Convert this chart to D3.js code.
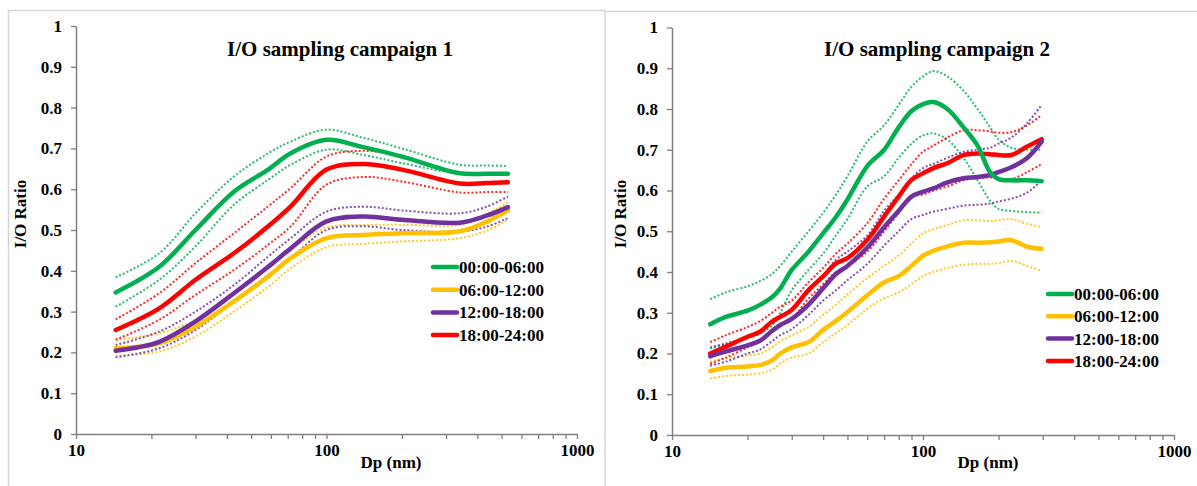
<!DOCTYPE html>
<html><head><meta charset="utf-8">
<script src="https://cdn.jsdelivr.net/npm/d3@7"></script>
<style>
body{margin:0;background:#fff}
svg{display:block}
text{font-family:"Liberation Serif","Times New Roman",serif;font-weight:bold;fill:#000}
</style>
</head><body>
<svg id="chart" width="1197" height="486"></svg>
<script>
// ---- shared labels / ticks ----
const seriesLabels = ["00:00-06:00", "06:00-12:00", "12:00-18:00", "18:00-24:00"];
const seriesColors = ["#00B050", "#FFC000", "#7030A0", "#FF0000"];
const yTicks = [0, 0.1, 0.2, 0.3, 0.4, 0.5, 0.6, 0.7, 0.8, 0.9, 1];
const xTicks = [10, 20, 30, 40, 50, 60, 70, 80, 90, 100, 200, 300, 400, 500, 600, 700, 800, 900, 1000];
const xTickLabels = [10, 100, 1000];
const titles = ["I/O sampling campaign 1", "I/O sampling campaign 2"];
const xLabel = "Dp (nm)";
const yLabel = "I/O Ratio";

// ---- campaign 1 ----
const dp1 = [14.4, 21.5, 30, 42.7, 58.5, 72, 100, 140, 200, 340, 435, 530];
const c1_0006    = [0.347, 0.41, 0.50, 0.594, 0.648, 0.688, 0.721, 0.703, 0.68, 0.639, 0.638, 0.638];
const c1_0006_hi = [0.384, 0.443, 0.541, 0.631, 0.688, 0.717, 0.746, 0.726, 0.70, 0.66, 0.658, 0.657];
const c1_0006_lo = [0.312, 0.378, 0.46, 0.562, 0.623, 0.66, 0.697, 0.684, 0.664, 0.638, 0.638, 0.638];
const c1_0612    = [0.21, 0.222, 0.263, 0.325, 0.386, 0.431, 0.48, 0.488, 0.492, 0.497, 0.52, 0.548];
const c1_0612_hi = [0.231, 0.247, 0.28, 0.345, 0.406, 0.451, 0.506, 0.512, 0.513, 0.513, 0.538, 0.568];
const c1_0612_lo = [0.192, 0.202, 0.239, 0.30, 0.361, 0.406, 0.458, 0.466, 0.472, 0.48, 0.498, 0.525];
const c1_1218    = [0.204, 0.226, 0.276, 0.345, 0.41, 0.455, 0.521, 0.533, 0.525, 0.518, 0.535, 0.556];
const c1_1218_hi = [0.218, 0.251, 0.30, 0.365, 0.435, 0.48, 0.545, 0.557, 0.548, 0.541, 0.557, 0.582];
const c1_1218_lo = [0.188, 0.21, 0.255, 0.325, 0.39, 0.431, 0.50, 0.509, 0.50, 0.496, 0.508, 0.529];
const c1_1824    = [0.255, 0.308, 0.378, 0.443, 0.509, 0.558, 0.648, 0.662, 0.648, 0.614, 0.615, 0.617];
const c1_1824_hi = [0.281, 0.345, 0.419, 0.492, 0.558, 0.603, 0.68, 0.694, 0.68, 0.64, 0.639, 0.639];
const c1_1824_lo = [0.231, 0.28, 0.341, 0.402, 0.464, 0.509, 0.611, 0.63, 0.619, 0.592, 0.593, 0.593];

// ---- campaign 2 ----
const dp2 = [14.2, 16.4, 20, 22.5, 25, 27, 30, 35, 40, 45, 50, 60, 70, 80, 90, 100, 110, 125, 145, 165, 185, 200, 225, 260, 297];
const c2_0006    = [0.272,0.29,0.305,0.32,0.338,0.36,0.405,0.45,0.495,0.535,0.578,0.66,0.70,0.755,0.795,0.812,0.817,0.80,0.755,0.71,0.645,0.628,0.625,0.625,0.623];
const c2_0006_hi = [0.333,0.35,0.365,0.378,0.395,0.415,0.45,0.50,0.545,0.59,0.635,0.72,0.76,0.81,0.855,0.88,0.893,0.88,0.845,0.80,0.755,0.725,0.705,0.70,0.70];
const c2_0006_lo = [0.212,0.222,0.238,0.25,0.268,0.30,0.355,0.405,0.445,0.49,0.53,0.61,0.635,0.68,0.715,0.735,0.74,0.725,0.68,0.625,0.575,0.555,0.55,0.547,0.546];
const c2_0612    = [0.157,0.165,0.168,0.172,0.183,0.2,0.215,0.228,0.258,0.28,0.302,0.343,0.375,0.39,0.415,0.44,0.452,0.463,0.472,0.472,0.473,0.475,0.478,0.462,0.457];
const c2_0612_hi = [0.18,0.188,0.195,0.20,0.215,0.23,0.245,0.265,0.295,0.32,0.345,0.385,0.415,0.44,0.47,0.495,0.505,0.515,0.527,0.527,0.525,0.527,0.53,0.518,0.51];
const c2_0612_lo = [0.138,0.145,0.148,0.152,0.16,0.175,0.19,0.2,0.228,0.25,0.27,0.31,0.335,0.35,0.37,0.39,0.40,0.41,0.418,0.42,0.42,0.422,0.427,0.415,0.402];
const c2_1218    = [0.193,0.205,0.22,0.232,0.255,0.27,0.285,0.32,0.36,0.395,0.415,0.46,0.51,0.55,0.585,0.597,0.605,0.62,0.63,0.633,0.638,0.645,0.657,0.68,0.72];
const c2_1218_hi = [0.215,0.225,0.24,0.255,0.275,0.29,0.31,0.35,0.39,0.43,0.45,0.49,0.55,0.59,0.63,0.655,0.665,0.68,0.695,0.70,0.705,0.715,0.73,0.765,0.81];
const c2_1218_lo = [0.17,0.18,0.20,0.21,0.23,0.245,0.26,0.295,0.33,0.355,0.38,0.42,0.465,0.50,0.53,0.54,0.548,0.555,0.563,0.565,0.568,0.573,0.58,0.595,0.625];
const c2_1824    = [0.20,0.217,0.241,0.254,0.278,0.29,0.307,0.356,0.389,0.421,0.434,0.479,0.536,0.585,0.626,0.642,0.655,0.667,0.687,0.691,0.689,0.687,0.687,0.708,0.726];
const c2_1824_hi = [0.228,0.245,0.265,0.28,0.30,0.315,0.33,0.375,0.41,0.445,0.47,0.52,0.58,0.625,0.665,0.695,0.71,0.73,0.748,0.748,0.745,0.742,0.743,0.76,0.785];
const c2_1824_lo = [0.175,0.19,0.215,0.23,0.255,0.27,0.285,0.335,0.37,0.40,0.415,0.45,0.50,0.545,0.585,0.59,0.60,0.61,0.625,0.63,0.632,0.63,0.628,0.645,0.665];

const panels = [
  { dp: dp1, title: titles[0], x0: 76, x1: 577, yTop: 26, yBot: 434, titleX: 340, xLabX: 391, yLabX: 26,
    legX: 433, legY: 267, legDy: 22.7,
    series: [[c1_0006, c1_0006_hi, c1_0006_lo], [c1_0612, c1_0612_hi, c1_0612_lo],
             [c1_1218, c1_1218_hi, c1_1218_lo], [c1_1824, c1_1824_hi, c1_1824_lo]] },
  { dp: dp2, title: titles[1], x0: 672, x1: 1174, yTop: 27.5, yBot: 435, titleX: 937, xLabX: 988, yLabX: 626,
    legX: 1048, legY: 294, legDy: 22.3,
    series: [[c2_0006, c2_0006_hi, c2_0006_lo], [c2_0612, c2_0612_hi, c2_0612_lo],
             [c2_1218, c2_1218_hi, c2_1218_lo], [c2_1824, c2_1824_hi, c2_1824_lo]] }
];

const svg = d3.select("#chart");

// panel frames
svg.append("path")
  .attr("d", "M8.5,486 V10.5 H605 V486 M605,11.5 H1197")
  .attr("fill", "none").attr("stroke", "#d4d4d4").attr("stroke-width", 1.5);

const axisColor = "#7f7f7f";

panels.forEach(p => {
  const x = d3.scaleLog().domain([10, 1000]).range([p.x0, p.x1]);
  const y = d3.scaleLinear().domain([0, 1]).range([p.yBot, p.yTop]);
  const g = svg.append("g");

  // y axis
  const ya = g.append("g").attr("transform", `translate(${p.x0},0)`)
    .call(d3.axisLeft(y).tickValues(yTicks).tickSize(5).tickSizeOuter(0).tickPadding(9).tickFormat(d => String(d)));
  // x axis
  const xa = g.append("g").attr("transform", `translate(0,${p.yBot})`)
    .call(d3.axisBottom(x).tickValues(xTicks).tickSize(5).tickSizeOuter(0).tickPadding(5)
      .tickFormat(d => xTickLabels.includes(d) ? String(d) : ""));
  [ya, xa].forEach(a => {
    a.select(".domain").attr("stroke", axisColor).attr("stroke-width", 1.5);
    a.selectAll(".tick line").attr("stroke", axisColor).attr("stroke-width", 1.3);
    a.selectAll(".tick text").attr("font-size", 17).attr("font-family", null).attr("fill", "#000");
  });

  const line = d3.line().x((d, i) => x(p.dp[i])).y(d => y(d)).curve(d3.curveCatmullRom.alpha(0.5));

  // dotted bounds
  p.series.forEach((s, k) => {
    [s[1], s[2]].forEach(arr => {
      g.append("path").datum(arr).attr("d", line)
        .attr("fill", "none").attr("stroke", seriesColors[k]).attr("stroke-width", 2)
        .attr("stroke-dasharray", "2 2").attr("opacity", 0.85);
    });
  });
  // mean lines
  [1, 3, 2, 0].forEach(k => {
    g.append("path").datum(p.series[k][0]).attr("d", line)
      .attr("fill", "none").attr("stroke", seriesColors[k]).attr("stroke-width", 4.5)
      .attr("stroke-linejoin", "round").attr("stroke-linecap", "round");
  });

  // title
  g.append("text").attr("x", p.titleX).attr("y", 56).attr("text-anchor", "middle")
    .attr("font-size", 21).text(p.title);
  // axis labels
  g.append("text").attr("x", p.xLabX).attr("y", 468).attr("text-anchor", "middle")
    .attr("font-size", 17).text(xLabel);
  g.append("text").attr("transform", `translate(${p.yLabX},214) rotate(-90)`).attr("text-anchor", "middle")
    .attr("font-size", 17).text(yLabel);

  // legend
  seriesLabels.forEach((lab, k) => {
    const ly = p.legY + k * p.legDy;
    g.append("line").attr("x1", p.legX).attr("x2", p.legX + 24).attr("y1", ly).attr("y2", ly)
      .attr("stroke", seriesColors[k]).attr("stroke-width", 4.5).attr("stroke-linecap", "round");
    g.append("text").attr("x", p.legX + 26).attr("y", ly + 6).attr("font-size", 17).text(lab);
  });
});
</script>
</body></html>
